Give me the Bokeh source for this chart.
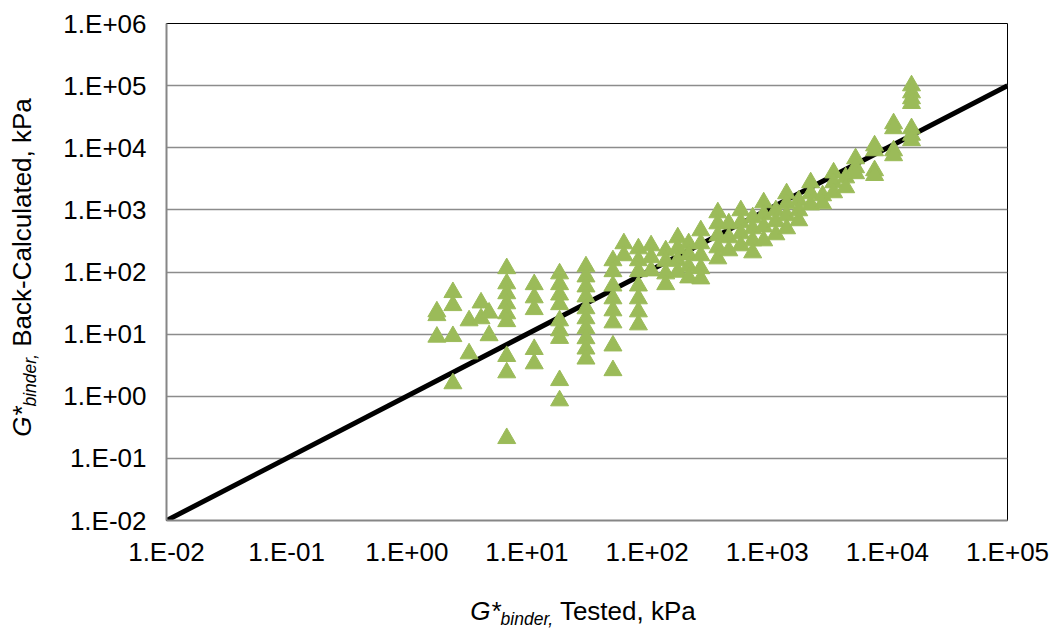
import math

from bokeh.plotting import figure
from bokeh.models import FixedTicker, CustomJSTickFormatter, ColumnDataSource, Div
from bokeh.layouts import column, row
from bokeh.embed import file_html
from bokeh.resources import INLINE

# Tested binder modulus (kPa), one entry per group of back-calculated values
tested_groups = [1.78, 2.42, 3.30, 4.15, 4.84, 6.79, 11.5, 18.7, 31.0, 52.0,
                 64.1, 84.7, 108, 143, 180, 222, 280, 388, 479, 603, 757, 935,
                 1180, 1450, 1830, 2300, 2890, 3570, 4500, 5440, 7830, 11270, 15890]

# Back-calculated binder modulus (kPa) for each tested value
back_calculated_groups = [
    [23, 20, 9.0],
    [47, 29, 9.2, 1.6],
    [16.5, 4.85],
    [32, 17.8],
    [22, 9.5],
    [114, 65, 45, 31, 21.4, 16, 4.4, 2.4, 0.21],
    [63, 38.7, 25, 5.7, 3.35],
    [94, 63, 43, 30, 16.5, 11.4, 8.6, 1.8, 0.85],
    [122, 84, 58, 40, 25.8, 17.8, 12.3, 8.5, 5.8, 4.0],
    [153, 102, 60, 37.3, 23.9, 15.3, 6.5, 2.6],
    [287, 184],
    [238, 153, 102, 60, 37.3, 23, 14.2],
    [266, 171, 105],
    [221, 150, 94, 63],
    [358, 240, 153, 100],
    [287, 190, 122, 81],
    [464, 287, 184, 114, 78],
    [905, 601, 386, 247, 164],
    [601, 358, 221],
    [975, 624, 415, 266],
    [751, 500, 320, 205],
    [1310, 840, 535, 320],
    [975, 650, 400],
    [1830, 1260, 809, 500],
    [1410, 975, 673],
    [2750, 1830, 1210],
    [1700, 1260],
    [3960, 2750, 1900],
    [3300, 2290],
    [6700, 4800, 3850],
    [10800, 9000, 4300, 3600],
    [24500, 20400, 9000, 7500],
    [100000, 77000, 62000, 52000, 20400, 16000, 13100],
]

# Line of equality
equality_x = [0.01, 100000]
equality_y = [0.01, 100000]

x_ticks = [0.01, 0.1, 1, 10, 100, 1000, 10000, 100000]
y_ticks = [0.01, 0.1, 1, 10, 100, 1000, 10000, 100000, 1000000]

tested = []
back_calc = []
for tx, ys in zip(tested_groups, back_calculated_groups):
    for yv in ys:
        tested.append(tx)
        back_calc.append(yv)

source = ColumnDataSource(data=dict(tested=tested, back=back_calc))

FONT = "Liberation Sans"
FS = "26px"

YTITLE_W = 60     # width of the column holding the rotated y title
XTITLE_H = 60     # height of the row holding the x title
FRAME_L, FRAME_R, FRAME_T, FRAME_B = 165, 1007, 23, 520

p = figure(width=1052 - YTITLE_W, height=630 - XTITLE_H,
           x_axis_type="log", y_axis_type="log",
           x_range=(0.01, 100000), y_range=(0.01, 1000000),
           output_backend="svg", toolbar_location=None,
           min_border_left=FRAME_L - YTITLE_W, min_border_right=1052 - FRAME_R,
           min_border_top=FRAME_T, min_border_bottom=630 - XTITLE_H - FRAME_B)

p.background_fill_color = "white"
p.border_fill_color = "white"
p.outline_line_color = "black"
p.outline_line_width = 1

p.xgrid.grid_line_color = None
p.ygrid.grid_line_color = "#8c8c8c"
p.ygrid.grid_line_width = 1.5

fmt = CustomJSTickFormatter(code="""
    const e = Math.round(Math.log10(tick));
    const s = e < 0 ? "-" : "+";
    const a = Math.abs(e);
    return "1.E" + s + (a < 10 ? "0" : "") + a;
""")

for ax, ticks in ((p.xaxis[0], x_ticks), (p.yaxis[0], y_ticks)):
    ax.ticker = FixedTicker(ticks=ticks)
    ax.formatter = fmt
    ax.major_tick_out = 0
    ax.major_tick_in = 0
    ax.minor_tick_out = 0
    ax.minor_tick_in = 0
    ax.axis_line_color = "#868686"
    ax.axis_line_width = 2
    ax.major_label_text_font = FONT
    ax.major_label_text_font_size = FS
    ax.major_label_text_color = "black"

p.xaxis.major_label_standoff = 16
p.yaxis.major_label_standoff = 20

p.line(equality_x, equality_y, line_color="black", line_width=5)

p.scatter("tested", "back", source=source, marker="triangle", size=18,
          fill_color="#9BBB59", line_color="#9BBB59", line_width=1)

# Axis titles with an italic subscript "binder"
SUB = ('<span style="font-size:17.5px;font-style:italic;position:relative;'
       'top:5px;">binder,</span>')
G = '<span style="font-style:italic;">G*</span>'

frame_w = FRAME_R - FRAME_L
frame_h = FRAME_B - FRAME_T

x_title_html = (
    f'<div style="margin:0;padding:0;padding-top:28px;margin-left:{FRAME_L - 3}px;'
    f'width:{frame_w}px;text-align:center;white-space:nowrap;'
    f'font-family:\'{FONT}\';font-size:{FS};line-height:26px;color:black;">'
    f'{G}{SUB} Tested, kPa</div>'
)

y_title_html = (
    f'<div style="position:absolute;left:0;top:0;margin:0;padding:0;'
    f'width:{frame_h}px;height:26px;text-align:center;white-space:nowrap;'
    f'font-family:\'{FONT}\';font-size:{FS};line-height:26px;color:black;'
    f'transform-origin:0 0;transform:translate(9px,{FRAME_B - 4}px) rotate(-90deg);">'
    f'{G}{SUB} Back-Calculated, kPa</div>'
)

x_title = Div(text=x_title_html, width=1052, height=XTITLE_H, margin=0)
y_title = Div(text=y_title_html, width=YTITLE_W, height=630 - XTITLE_H, margin=0)

layout = column(row(y_title, p, spacing=0), x_title, spacing=0)

open("out.html", "w").write(file_html(layout, INLINE))
